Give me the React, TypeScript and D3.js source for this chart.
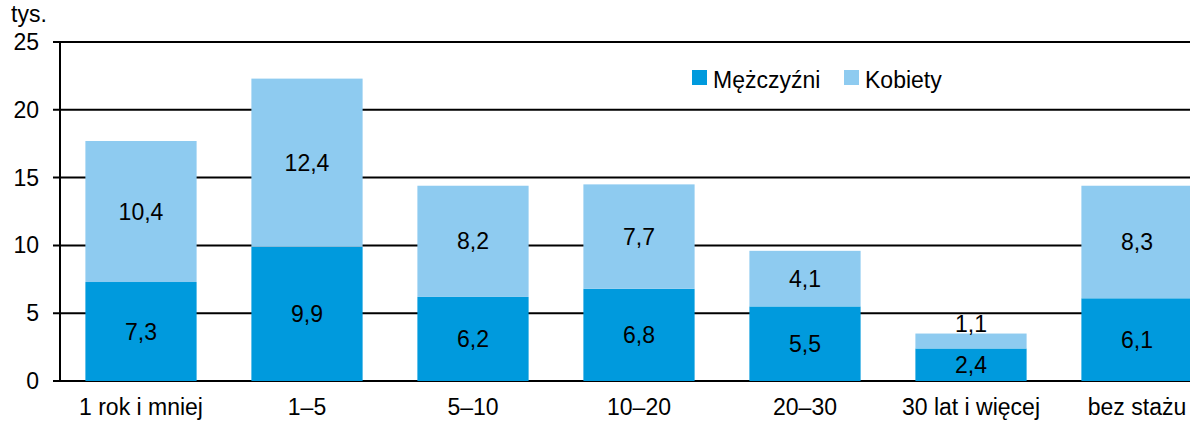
import React, { useRef, useEffect } from 'react';
import * as d3 from 'd3';

const categories = ['1 rok i mniej', '1–5', '5–10', '10–20', '20–30', '30 lat i więcej', 'bez stażu'];
const men = [7.3, 9.9, 6.2, 6.8, 5.5, 2.4, 6.1];
const women = [10.4, 12.4, 8.2, 7.7, 4.1, 1.1, 8.3];
const yTicks = [0, 5, 10, 15, 20, 25];
const seriesNames = ['Mężczyźni', 'Kobiety'];
const colors = ['#009ADD', '#8ECBF0'];

const W = 1190;
const H = 421;
const fmt = (v: number) => v.toFixed(1).replace('.', ',');

export default function App() {
  const svgRef = useRef<SVGSVGElement>(null);

  useEffect(() => {
    if (!svgRef.current) return;
    const svg = d3.select(svgRef.current);
    svg.selectAll('*').remove();
    const font = 'Liberation Sans, Arial, sans-serif';
    const fs = '23px';

    const x = d3.scaleBand<string>()
      .domain(categories)
      .range([58, 58 + 166 * categories.length])
      .paddingInner(0.33)
      .paddingOuter(0.165);
    const y = d3.scaleLinear().domain([0, 25]).range([381, 42]);

    // gridlines + ticks
    svg.append('g')
      .selectAll('line')
      .data(yTicks)
      .enter()
      .append('line')
      .attr('x1', 53)
      .attr('x2', W)
      .attr('y1', d => y(d))
      .attr('y2', d => y(d))
      .attr('stroke', '#000')
      .attr('stroke-width', 2);

    svg.append('g')
      .selectAll('text')
      .data(yTicks)
      .enter()
      .append('text')
      .attr('x', 39)
      .attr('y', d => y(d) + 8)
      .attr('text-anchor', 'end')
      .style('font-family', font)
      .style('font-size', fs)
      .text(d => d);

    svg.append('text')
      .attr('x', 11)
      .attr('y', 22)
      .style('font-family', font)
      .style('font-size', fs)
      .text('tys.');

    // stacked bars
    const stacks = categories.map((c, i) => ({ c, m: men[i], w: women[i] }));
    const g = svg.append('g');
    stacks.forEach(s => {
      const bx = x(s.c) || 0;
      g.append('rect')
        .attr('x', bx)
        .attr('width', x.bandwidth())
        .attr('y', y(s.m))
        .attr('height', y(0) - y(s.m))
        .attr('fill', colors[0]);
      g.append('rect')
        .attr('x', bx)
        .attr('width', x.bandwidth())
        .attr('y', y(s.m + s.w))
        .attr('height', y(s.m) - y(s.m + s.w))
        .attr('fill', colors[1]);
      const cx = bx + x.bandwidth() / 2;
      g.append('text')
        .attr('x', cx)
        .attr('y', y(s.m / 2) + 8)
        .attr('text-anchor', 'middle')
        .style('font-family', font)
        .style('font-size', fs)
        .text(fmt(s.m));
      const small = y(s.m) - y(s.m + s.w) < 25;
      g.append('text')
        .attr('x', cx)
        .attr('y', small ? y(s.m + s.w) - 2 : y(s.m + s.w / 2) + 8)
        .attr('text-anchor', 'middle')
        .style('font-family', font)
        .style('font-size', fs)
        .text(fmt(s.w));
    });

    // y axis line
    svg.append('line')
      .attr('x1', 60)
      .attr('x2', 60)
      .attr('y1', y(25) - 1)
      .attr('y2', y(0) + 1)
      .attr('stroke', '#000')
      .attr('stroke-width', 2);

    // category labels
    svg.append('g')
      .selectAll('text')
      .data(categories)
      .enter()
      .append('text')
      .attr('x', d => (x(d) || 0) + x.bandwidth() / 2)
      .attr('y', 415)
      .attr('text-anchor', 'middle')
      .style('font-family', font)
      .style('font-size', fs)
      .text(d => d);

    // legend
    const legendX = [692, 844];
    seriesNames.forEach((n, i) => {
      svg.append('rect')
        .attr('x', legendX[i])
        .attr('y', 70)
        .attr('width', 15)
        .attr('height', 15)
        .attr('fill', colors[i]);
      svg.append('text')
        .attr('x', legendX[i] + 21)
        .attr('y', 88)
        .style('font-family', font)
        .style('font-size', fs)
        .text(n);
    });
  }, []);

  return (
    <svg
      ref={svgRef}
      width={W}
      height={H}
      style={{ position: 'absolute', left: 0, top: 0, background: '#fff' }}
    />
  );
}
